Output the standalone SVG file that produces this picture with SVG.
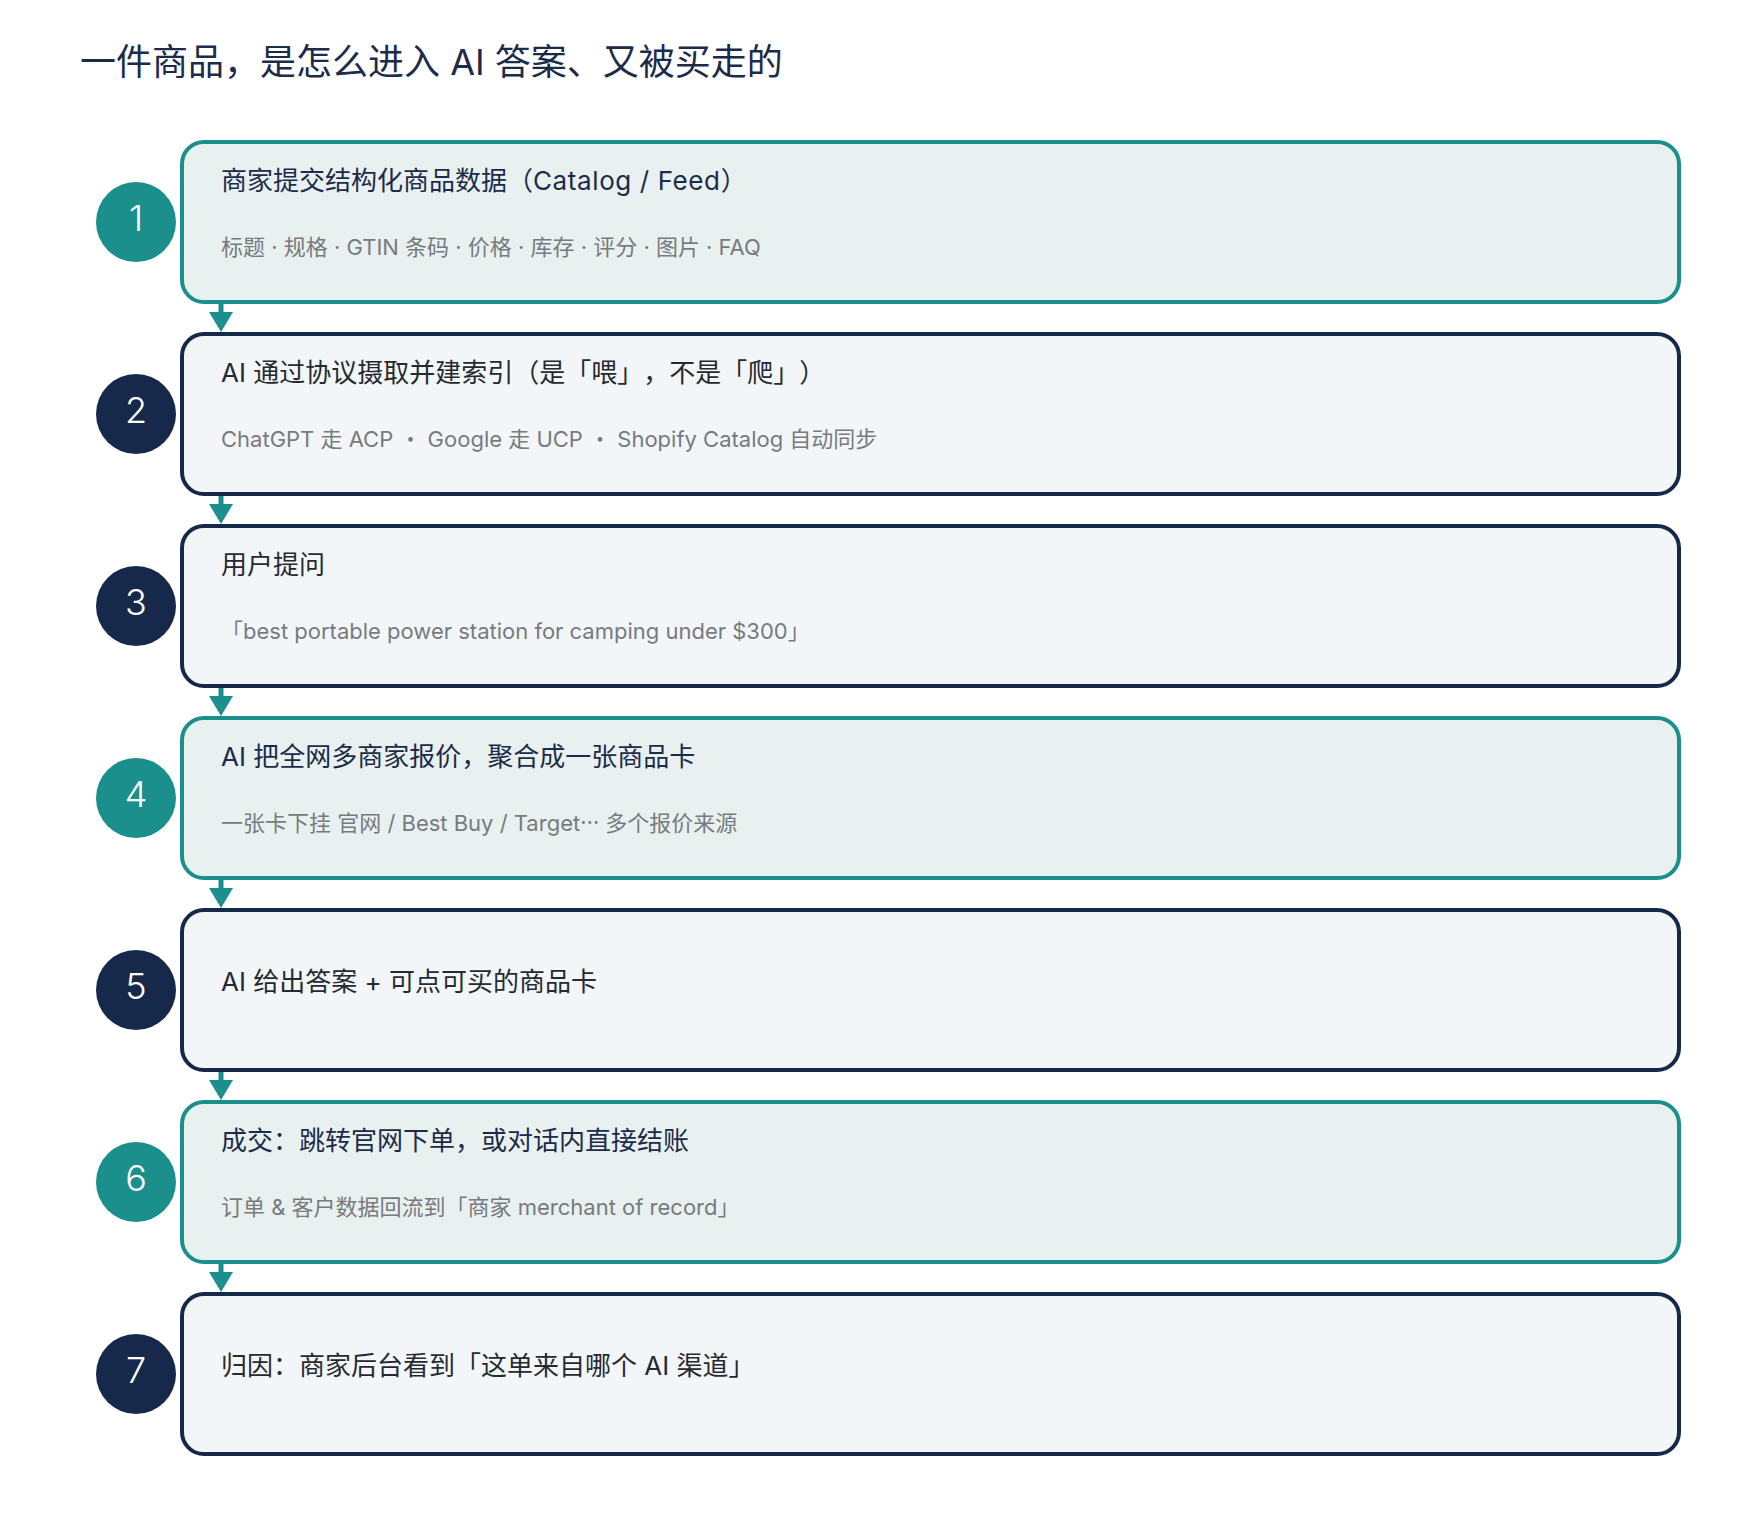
<svg xmlns="http://www.w3.org/2000/svg" width="1760" height="1520" viewBox="0 0 1760 1520">
  <defs>
    <marker id="arrow" viewBox="0 0 20 24" markerWidth="20" markerHeight="24" refX="0" refY="12" orient="auto" markerUnits="userSpaceOnUse">
      <path d="M0,0 L20,12 L0,24 Z" fill="#1b8f8b"/>
    </marker>
    <style>
      text { font-family: Inter, "Noto Sans CJK SC", "Noto Sans", sans-serif; text-spacing-trim: space-all; }
      .page-title { font-size: 36px; fill: #1c2b4a; }
      .box { stroke-width: 4; }
      .box.teal { fill: #e8f1f0; stroke: #1b8f8b; }
      .box.navy { fill: #f2f6f9; stroke: #16294a; }
      .dot.teal { fill: #1b8f8b; }
      .dot.navy { fill: #16294a; }
      .num { font-size: 36px; font-weight: 300; fill: #ffffff; text-anchor: middle; }
      .ttl { font-size: 26px; }
      .ttl.teal { fill: #1c2b4a; }
      .ttl.navy { fill: #262a30; }
      .sub { font-size: 22px; fill: #777a7e; }
      .conn { stroke: #1b8f8b; stroke-width: 5; fill: none; }
    </style>
  </defs>
  <rect x="0" y="0" width="1760" height="1520" fill="#ffffff"/>

  <text class="page-title" x="80" y="75">一件商品，是怎么进入 AI 答案、又被买走的</text>

  <g id="connectors">
    <line class="conn" x1="221" y1="304" x2="221" y2="312" marker-end="url(#arrow)"/>
    <line class="conn" x1="221" y1="496" x2="221" y2="504" marker-end="url(#arrow)"/>
    <line class="conn" x1="221" y1="688" x2="221" y2="696" marker-end="url(#arrow)"/>
    <line class="conn" x1="221" y1="880" x2="221" y2="888" marker-end="url(#arrow)"/>
    <line class="conn" x1="221" y1="1072" x2="221" y2="1080" marker-end="url(#arrow)"/>
    <line class="conn" x1="221" y1="1264" x2="221" y2="1272" marker-end="url(#arrow)"/>
  </g>

  <g id="step1">
    <rect class="box teal" x="182" y="142" width="1497" height="160" rx="22"/>
    <circle class="dot teal" cx="136" cy="222" r="40"/>
    <text class="num" x="136" y="231">1</text>
    <text class="ttl teal" x="221" y="190">商家提交结构化商品数据（<tspan letter-spacing="0.6">Catalog / Feed</tspan>）</text>
    <text class="sub" x="221" y="255">标题 · 规格 · GTIN 条码 · 价格 · 库存 · 评分 · 图片 · FAQ</text>
  </g>

  <g id="step2">
    <rect class="box navy" x="182" y="334" width="1497" height="160" rx="22"/>
    <circle class="dot navy" cx="136" cy="414" r="40"/>
    <text class="num" x="136" y="423">2</text>
    <text class="ttl navy" x="221" y="382">AI 通过协议摄取并建索引（是「喂」，不是「爬」）</text>
    <text class="sub" x="221" y="447">ChatGPT 走 ACP ・ Google 走 UCP ・ Shopify Catalog 自动同步</text>
  </g>

  <g id="step3">
    <rect class="box navy" x="182" y="526" width="1497" height="160" rx="22"/>
    <circle class="dot navy" cx="136" cy="606" r="40"/>
    <text class="num" x="136" y="615">3</text>
    <text class="ttl navy" x="221" y="574">用户提问</text>
    <text class="sub" x="221" y="639">「best portable power station for camping under $300」</text>
  </g>

  <g id="step4">
    <rect class="box teal" x="182" y="718" width="1497" height="160" rx="22"/>
    <circle class="dot teal" cx="136" cy="798" r="40"/>
    <text class="num" x="136" y="807">4</text>
    <text class="ttl teal" x="221" y="766">AI 把全网多商家报价，聚合成一张商品卡</text>
    <text class="sub" x="221" y="831">一张卡下挂 官网 / Best Buy / Target<tspan dy="-7">…</tspan><tspan dy="7"> 多个报价来源</tspan></text>
  </g>

  <g id="step5">
    <rect class="box navy" x="182" y="910" width="1497" height="160" rx="22"/>
    <circle class="dot navy" cx="136" cy="990" r="40"/>
    <text class="num" x="136" y="999">5</text>
    <text class="ttl navy" x="221" y="991">AI 给出答案 + 可点可买的商品卡</text>
  </g>

  <g id="step6">
    <rect class="box teal" x="182" y="1102" width="1497" height="160" rx="22"/>
    <circle class="dot teal" cx="136" cy="1182" r="40"/>
    <text class="num" x="136" y="1191">6</text>
    <text class="ttl teal" x="221" y="1150">成交：跳转官网下单，或对话内直接结账</text>
    <text class="sub" x="221" y="1215">订单 &amp; 客户数据回流到「商家 merchant of record」</text>
  </g>

  <g id="step7">
    <rect class="box navy" x="182" y="1294" width="1497" height="160" rx="22"/>
    <circle class="dot navy" cx="136" cy="1374" r="40"/>
    <text class="num" x="136" y="1383">7</text>
    <text class="ttl navy" x="221" y="1375">归因：商家后台看到「这单来自哪个 AI 渠道」</text>
  </g>
</svg>
